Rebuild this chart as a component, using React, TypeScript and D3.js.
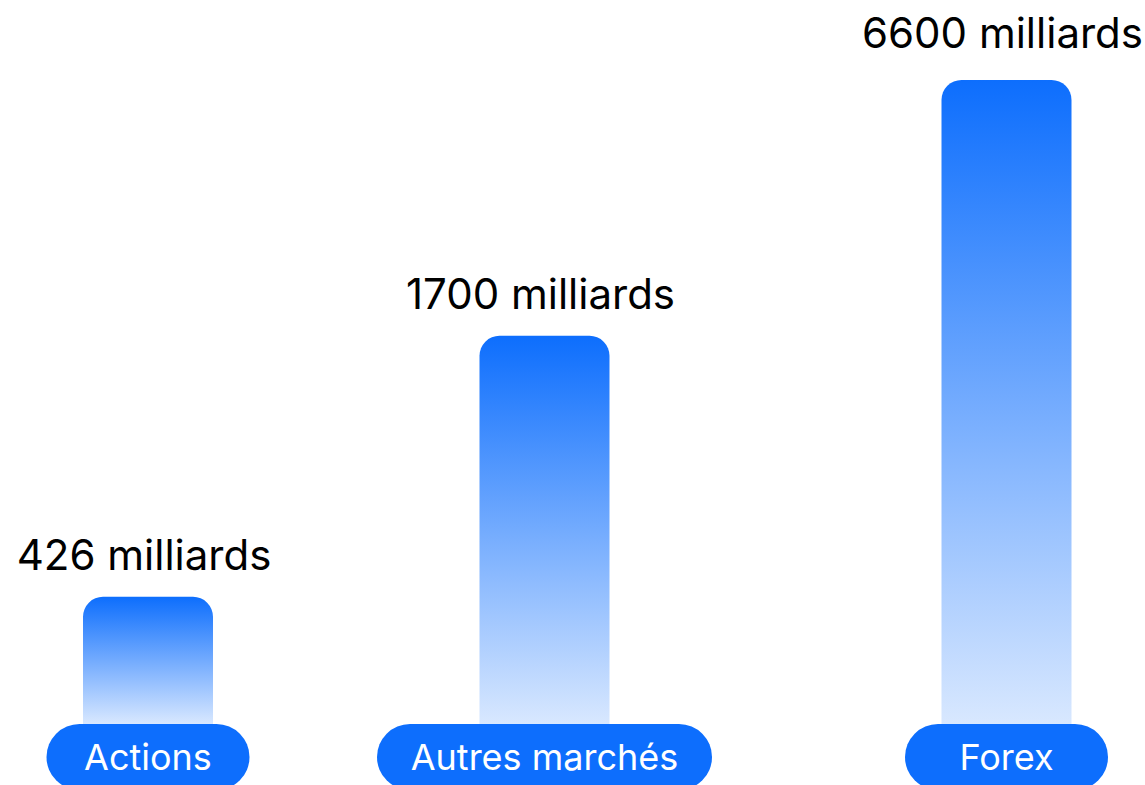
import React from "react";
import * as d3 from "d3";

const categories = ["Actions", "Autres marchés", "Forex"];
const values = [426, 1700, 6600];
const valueLabels = ["426 milliards", "1700 milliards", "6600 milliards"];

const W = 1145;
const H = 785;
const baseY = 724;
const barW = 130;
const pillH = 66;
const BLUE = "#0D6EFD";

export default function App() {
  const x = d3.scaleOrdinal<string, number>().domain(categories).range([148, 544.5, 1006.5]);
  const y = d3.scaleLog().domain([217, 6600]).range([baseY, 80]);

  const topRounded = (x0: number, y0: number, w: number, h: number, r: number) => {
    const p = d3.path();
    p.moveTo(x0, y0 + h);
    p.lineTo(x0, y0 + r);
    p.arcTo(x0, y0, x0 + r, y0, r);
    p.lineTo(x0 + w - r, y0);
    p.arcTo(x0 + w, y0, x0 + w, y0 + r, r);
    p.lineTo(x0 + w, y0 + h);
    p.closePath();
    return p.toString();
  };

  return (
    <svg
      width={W}
      height={H}
      style={{ position: "absolute", left: 0, top: 0, background: "#fff" }}
      fontFamily="Inter, 'Noto Sans', sans-serif"
    >
      <defs>
        <linearGradient id="barGrad" x1="0" y1="0" x2="0" y2="1">
          <stop offset="0%" stopColor={BLUE} stopOpacity={1} />
          <stop offset="100%" stopColor={BLUE} stopOpacity={0.16} />
        </linearGradient>
      </defs>
      {categories.map((c, i) => {
        const cx = x(c);
        const top = y(values[i]);
        return (
          <g key={c}>
            <path d={topRounded(cx - barW / 2, top, barW, baseY - top, 20)} fill="url(#barGrad)" />
            <text x={cx - 4} y={i === 2 ? top - 32 : top - 27} textAnchor="middle" fontSize={42} fill="#000">
              {valueLabels[i]}
            </text>
          </g>
        );
      })}
      {categories.map((c, i) => {
        const cx = x(c);
        const pw = i === 1 ? 335 : 203;
        return (
          <g key={c + "p"}>
            <rect x={cx - pw / 2} y={baseY} width={pw} height={pillH} rx={pillH / 2} fill={BLUE} />
            <text x={cx} y={baseY + pillH / 2 + 13} textAnchor="middle" fontSize={36} fill="#fff">
              {c}
            </text>
          </g>
        );
      })}
    </svg>
  );
}
